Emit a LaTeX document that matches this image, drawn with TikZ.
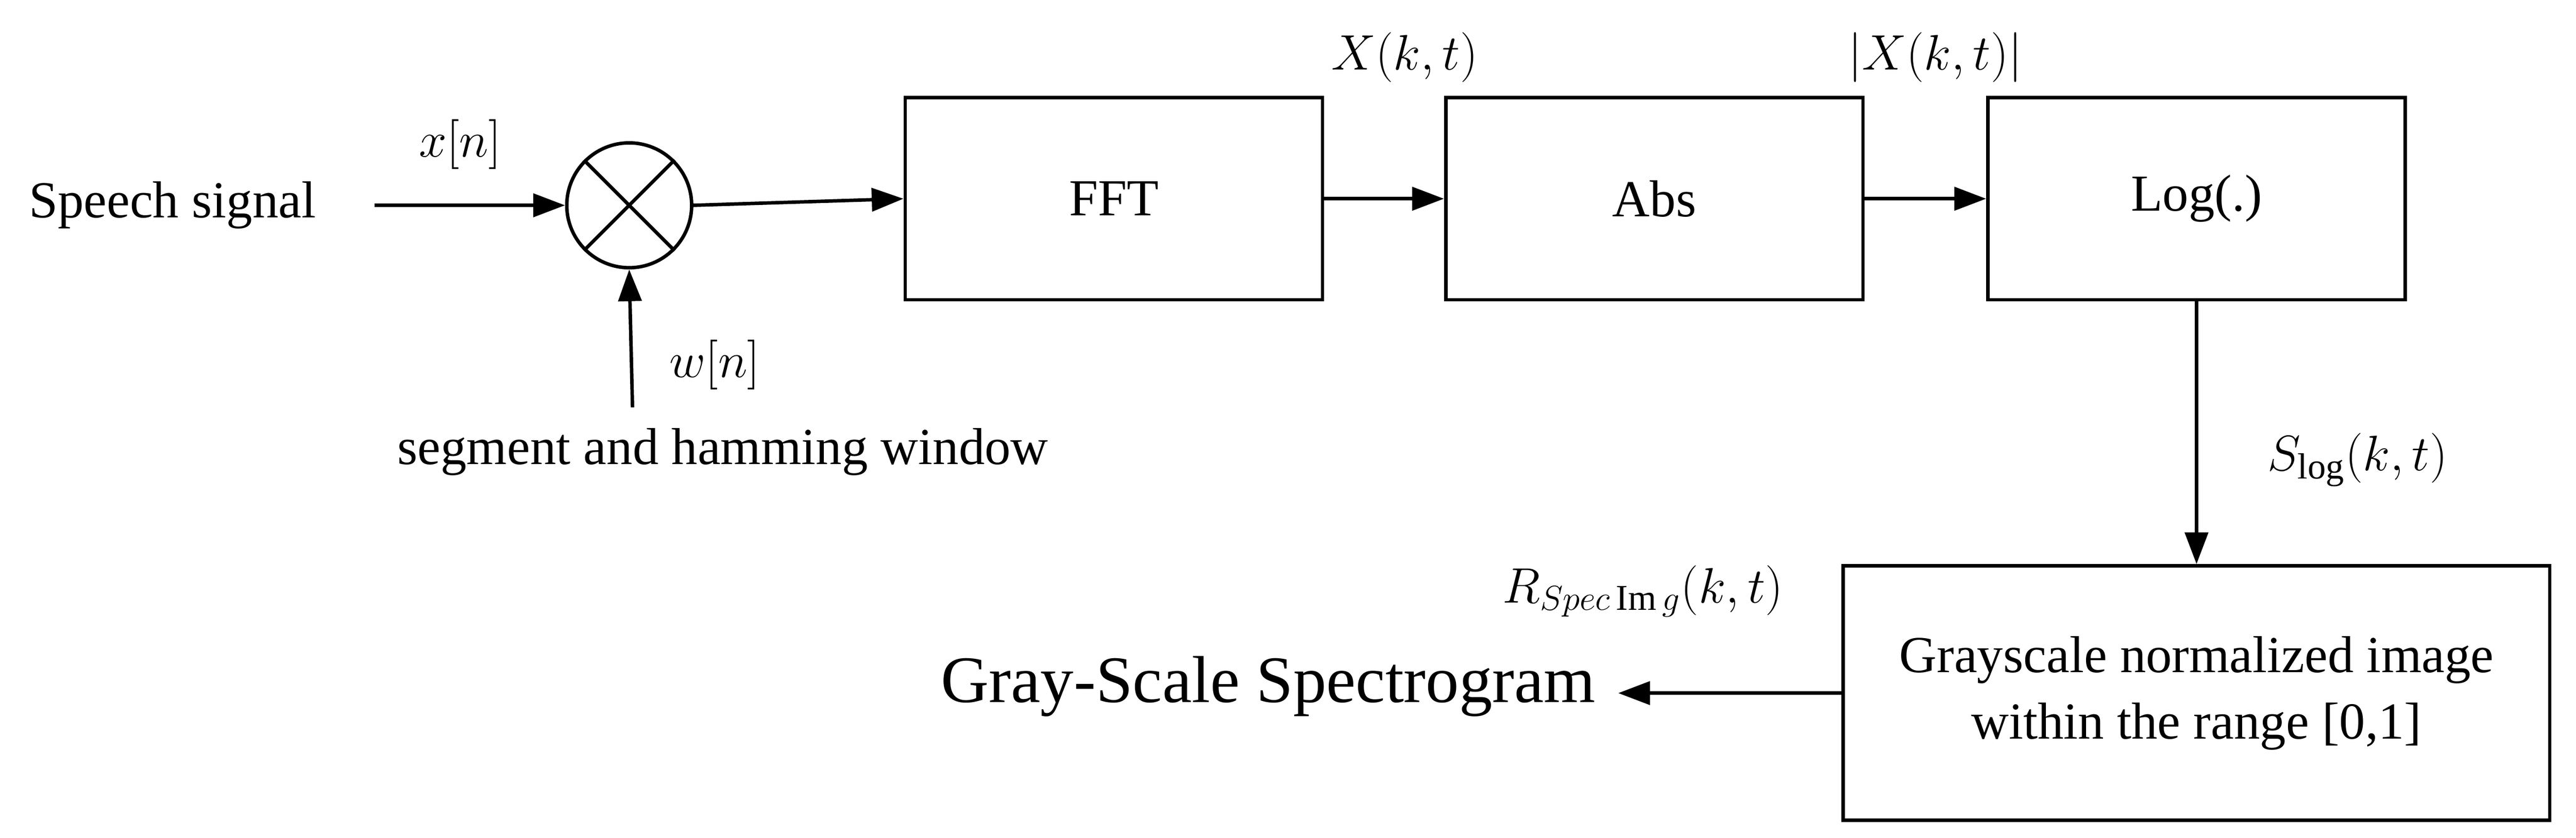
\documentclass[tikz,border=0pt]{standalone}
\usepackage{fontspec}
\setmainfont{Liberation Serif}
\usetikzlibrary{arrows.meta}
\begin{document}
\begin{tikzpicture}[x=0.02cm,y=-0.02cm,line width=1.2pt,
  blk/.style={draw, minimum width=254*0.02cm, minimum height=123*0.02cm, font=\fontsize{18}{22}\selectfont},
  lbl/.style={font=\fontsize{18}{22}\selectfont},
  flow/.style={-{Triangle[length=11pt,width=8pt]}}]
	\useasboundingbox (0,0) rectangle (1568,510);
		\node[lbl] (src) at (105,125) {Speech signal};
		\node[shape=circle, draw, minimum size=76*0.02cm, inner sep=0pt] (mul) at (383,125) {};
		\draw (mul.north west) -- (mul.south east) (mul.north east) -- (mul.south west);
		\coordinate (win) at (385,248);
		\node[blk] (FFT) at (678,121) {FFT};
		\node[blk] (Abs) at (1007,121) {Abs};
		\node[blk] (Log) at (1337,121) {Log(.)};
		\node[draw, minimum width=430*0.02cm, minimum height=155*0.02cm, align=center, font=\fontsize{18}{23}\selectfont] (Gray) at (1337,422) {Grayscale normalized image\\within the range [0,1]};
		\node[font=\fontsize{23}{28}\selectfont] (Spec) at (772,418) {Gray-Scale Spectrogram};
		% Connections
		\draw [flow] (228,125) -- (mul.west);
		\draw [flow] (win) -- (mul.south);
		\draw [flow] (mul.east) -- (FFT.west);
		\draw [flow] (FFT.east) -- (Abs.west);
		\draw [flow] (Abs.east) -- (Log.west);
		\draw [flow] (Log.south) -- (Gray.north);
		\draw [flow] (Gray.west) -- (985,422);
		%% Labels
		\node[lbl] at (280,88) {$x[n]$};
		\node[lbl] at (435,222) {$w[n]$};
		\node[lbl] at (440,275) {segment and hamming window};
		\node[lbl] at (855,35) {$X(k,t)$};
		\node[lbl] at (1178,35) {$\bigl|X(k,t)\bigr|$};
		\node[lbl] at (1435,280) {$S_{\log}(k,t)$};
		\node[lbl] at (1000,360) {$R_{Spec\,\mathrm{Im}\,g}(k,t)$};
	\end{tikzpicture}
\end{document}
